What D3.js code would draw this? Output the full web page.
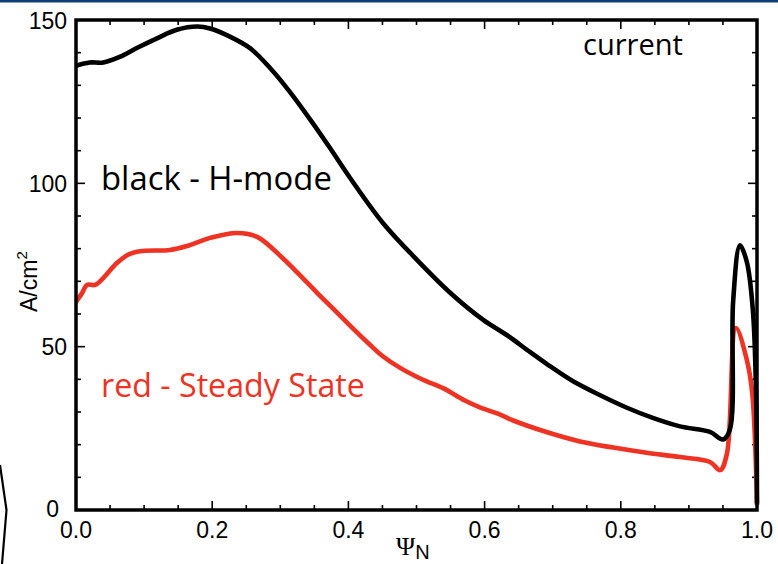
<!DOCTYPE html>
<html>
<head>
<meta charset="utf-8">
<script src="https://cdn.jsdelivr.net/npm/d3@7"></script>
<style>
  html, body { margin: 0; padding: 0; background: #fff; }
  svg { display: block; }
</style>
</head>
<body>
<svg id="chart" width="778" height="564"></svg>
<script>
// ---- data ----
const psiHmode = [0, 0.02, 0.04, 0.065, 0.09, 0.119, 0.148, 0.178, 0.197, 0.226, 0.256, 0.285, 0.314, 0.344, 0.373, 0.402, 0.451, 0.501, 0.549, 0.598, 0.633, 0.667, 0.692, 0.730, 0.769, 0.809, 0.847, 0.887, 0.931, 0.950, 0.960, 0.965, 0.975, 0.985, 0.994, 0.9985, 1.0];
const currentHmode = [136, 137, 137, 138.8, 141.5, 144.4, 147, 148, 147.4, 144.9, 141.3, 135.3, 128, 119.5, 110.8, 101.8, 87.8, 76.5, 66.6, 58.2, 53.5, 48.3, 44.6, 39.4, 35.2, 31.3, 28.2, 25.6, 23.9, 21.6, 24.5, 64, 81, 76, 61, 36.7, 2];

const psiSteady = [0, 0.009, 0.016, 0.028, 0.04, 0.06, 0.079, 0.098, 0.138, 0.163, 0.197, 0.236, 0.266, 0.304, 0.333, 0.354, 0.383, 0.402, 0.432, 0.451, 0.476, 0.501, 0.515, 0.539, 0.571, 0.593, 0.623, 0.642, 0.692, 0.740, 0.789, 0.838, 0.887, 0.931, 0.946, 0.956, 0.969, 0.985, 0.993, 1.0];
const currentSteady = [63.7, 66.4, 68.9, 68.9, 71, 75.6, 78.4, 79.3, 79.6, 80.8, 83.3, 84.8, 83.6, 77, 71, 66.5, 60.5, 56.5, 50.5, 47, 43.5, 40.7, 39.4, 37.3, 33.5, 31.4, 29.2, 27.4, 23.8, 21, 19.1, 17.5, 16.2, 14.7, 12.2, 17.4, 55.7, 46, 35.8, 1.5];

const xTickLabels = ["0.0", "0.2", "0.4", "0.6", "0.8", "1.0"];
const yTickLabels = ["0", "50", "100", "150"];
const annotations = ["current", "black - H-mode", "red - Steady State"];

// ---- layout ----
const W = 778, H = 564;
const margin = {left: 76, right: 21, top: 20, bottom: 54};
const svg = d3.select("#chart");
const x = d3.scaleLinear().domain([0, 1]).range([margin.left, W - margin.right]);
const y = d3.scaleLinear().domain([0, 150]).range([H - margin.bottom, margin.top]);
const RED = "#ee3224";

// slide header line
svg.append("rect").attr("x", 0).attr("y", 0).attr("width", W).attr("height", 2.5).attr("fill", "#0e3f74");
// decorative partial shape at left edge
svg.append("path").attr("d", "M0,465 L6.5,510 L2,564").attr("fill", "none").attr("stroke", "#000").attr("stroke-width", 2.2);

// ---- ticks (inward, all four sides) ----
const tickW = 1.6;
function ticksX(g, yPos, dir) {
  const minor = d3.range(0, 1.0001, 0.05);
  minor.forEach(v => {
    const major = Math.abs(Math.round(v * 5) - v * 5) < 1e-6;
    const len = major ? 9 : 5;
    g.append("line").attr("x1", x(v)).attr("x2", x(v)).attr("y1", yPos).attr("y2", yPos + dir * len)
      .attr("stroke", "#000").attr("stroke-width", tickW);
  });
}
function ticksY(g, xPos, dir) {
  const minor = d3.range(0, 150.001, 10);
  minor.forEach(v => {
    const major = v % 50 === 0;
    const len = major ? 9 : 5;
    g.append("line").attr("y1", y(v)).attr("y2", y(v)).attr("x1", xPos).attr("x2", xPos + dir * len)
      .attr("stroke", "#000").attr("stroke-width", tickW);
  });
}
const tg = svg.append("g");
ticksX(tg, y(0), -1);
ticksX(tg, y(150), 1);
ticksY(tg, x(0), 1);
ticksY(tg, x(1), -1);

// ---- curves ----
const line = d3.line().x(d => x(d[0])).y(d => y(d[1])).curve(d3.curveCatmullRom.alpha(0.5));
svg.append("path").datum(psiSteady.map((p, i) => [p, currentSteady[i]]))
  .attr("d", line).attr("fill", "none").attr("stroke", RED).attr("stroke-width", 4.6).attr("stroke-linejoin", "round");
svg.append("path").datum(psiHmode.map((p, i) => [p, currentHmode[i]]))
  .attr("d", line).attr("fill", "none").attr("stroke", "#000").attr("stroke-width", 4.6).attr("stroke-linejoin", "round");

// ---- frame ----
svg.append("rect").attr("x", x(0)).attr("y", y(150)).attr("width", x(1) - x(0)).attr("height", y(0) - y(150))
  .attr("fill", "none").attr("stroke", "#000").attr("stroke-width", 3.5);

// ---- tick labels ----
const tickFont = "'Liberation Sans', Arial, Helvetica, sans-serif";
svg.append("g").selectAll("text").data(xTickLabels).join("text")
  .attr("x", d => x(+d)).attr("y", 538)
  .attr("text-anchor", "middle").attr("font-family", tickFont).attr("font-size", 23).attr("fill", "#000")
  .text(d => d);
svg.append("g").selectAll("text").data(yTickLabels).join("text")
  .attr("x", d => +d === 0 ? 59 : 67)
  .attr("y", d => +d === 0 ? y(0) + 7 : y(+d) + 8.5)
  .attr("text-anchor", "end").attr("font-family", tickFont).attr("font-size", 23).attr("fill", "#000")
  .text(d => d);

// axis titles
const xl = svg.append("text").attr("x", 396).attr("y", 555).attr("fill", "#000");
xl.append("tspan").attr("font-family", "'Liberation Serif', 'DejaVu Serif', serif").attr("font-size", 26).text("Ψ");
xl.append("tspan").attr("font-family", tickFont).attr("font-size", 20).attr("dy", 4).text("N");

const yl = svg.append("text").attr("transform", "translate(37,312) rotate(-90)").attr("font-family", tickFont).attr("fill", "#000");
yl.append("tspan").attr("font-size", 23).text("A/cm");
yl.append("tspan").attr("font-size", 15).attr("dy", -10).text("2");

// ---- annotations ----
const annFont = "'Open Sans', 'Noto Sans', sans-serif";
function fitText(str, xPos, yPos, targetW, color) {
  const t = svg.append("text").attr("x", xPos).attr("y", yPos).attr("font-family", annFont)
    .attr("font-size", 28).attr("fill", color).text(str);
  const w = t.node().getComputedTextLength();
  t.attr("font-size", 28 * targetW / w);
}
fitText(annotations[0], 583, 55, 100, "#000");
fitText(annotations[1], 101, 190, 231, "#000");
fitText(annotations[2], 101, 397, 264, RED);
</script>
</body>
</html>
